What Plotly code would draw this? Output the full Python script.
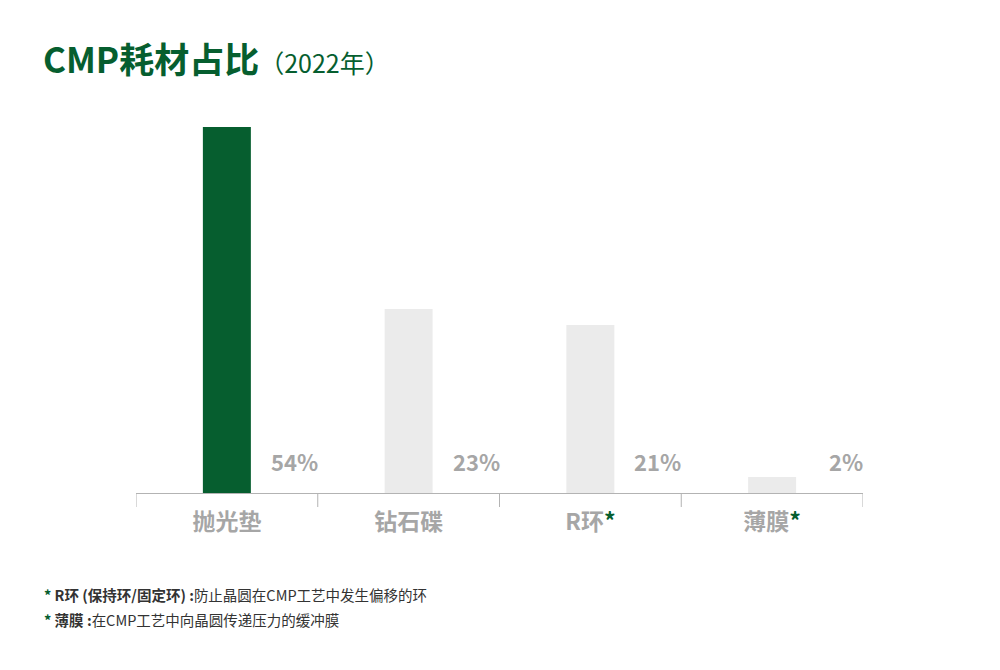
import plotly.graph_objects as go

categories = ["抛光垫", "钻石碟", "R环", "薄膜"]
values = [54, 23, 21, 2]
value_labels = ["54%", "23%", "21%", "2%"]
starred = [False, False, True, True]

GREEN = "#065E2F"
LIGHT = "#EBEBEB"
GREY_TXT = "#A6A6A6"
FONT = "Noto Sans CJK SC"

bar_colors = [GREEN] + [LIGHT] * (len(values) - 1)

tick_text = [
    f"<b>{c}</b>" + (f"<b><span style='color:{GREEN}'>*</span></b>" if s else "")
    for c, s in zip(categories, starred)
]

fig = go.Figure()
fig.add_trace(go.Bar(
    x=list(range(len(categories))),
    y=values,
    marker=dict(color=bar_colors, line=dict(width=0)),
    width=0.264,
    hoverinfo="skip",
))

PW = 1000 - 136 - 137
PH = 493 - 127

for i, lab in enumerate(value_labels):
    fig.add_annotation(
        x=i + 0.5, y=(493 - 461) / PH, xref="x", yref="paper",
        text=f"<b>{lab}</b>", showarrow=False,
        xanchor="right", yanchor="middle", xshift=2,
        font=dict(family=FONT, size=22, color=GREY_TXT),
    )

# Title
fig.add_annotation(
    x=(44 - 136) / PW, y=(493 - 57) / PH, xref="paper", yref="paper",
    showarrow=False, xshift=-3,
    text=(f"<b><span style='font-size:35px'>CMP耗材占比</span></b>"
          f"<span style='font-size:25px'>（2022年）</span>"),
    xanchor="left", yanchor="middle",
    font=dict(family=FONT, size=35, color=GREEN),
)

fig.update_layout(
    width=1000, height=670,
    margin=dict(l=136, r=137, t=127, b=177),
    paper_bgcolor="white", plot_bgcolor="white",
    showlegend=False,
    font=dict(family=FONT),
    xaxis=dict(
        range=[-0.5, len(categories) - 0.5],
        tickmode="array",
        tickvals=list(range(len(categories))),
        ticktext=tick_text,
        tickfont=dict(family=FONT, size=23, color=GREY_TXT),
        ticklabelstandoff=8,
        showline=True, linecolor="#B3B3B3", linewidth=1,
        showgrid=False, zeroline=False,
        ticks="", fixedrange=True,
    ),
    yaxis=dict(
        range=[0, 45.75], visible=False, showgrid=False, zeroline=False,
    ),
)

# boundary ticks positioned by axis coordinates
for b in [i - 0.5 for i in range(len(categories) + 1)]:
    fig.add_shape(
        type="line", xref="x", yref="paper",
        x0=b, x1=b, y0=0, y1=-14 / PH,
        line=dict(color="#B3B3B3", width=1),
    )

# Footnotes
notes = [
    ("R环 (保持环/固定环) :", "防止晶圆在CMP工艺中发生偏移的环", 594),
    ("薄膜 :", "在CMP工艺中向晶圆传递压力的缓冲膜", 619),
]
for head, body, py in notes:
    fig.add_annotation(
        x=(44 - 136) / PW, y=(493 - py) / PH, xref="paper", yref="paper",
        showarrow=False, xanchor="left", yanchor="middle", xshift=-2,
        text=(f"<span style='color:{GREEN}'><b>*</b></span> "
              f"<b>{head}</b>{body}"),
        font=dict(family=FONT, size=14.5, color="#333333"),
    )

fig.write_html("out.html")
